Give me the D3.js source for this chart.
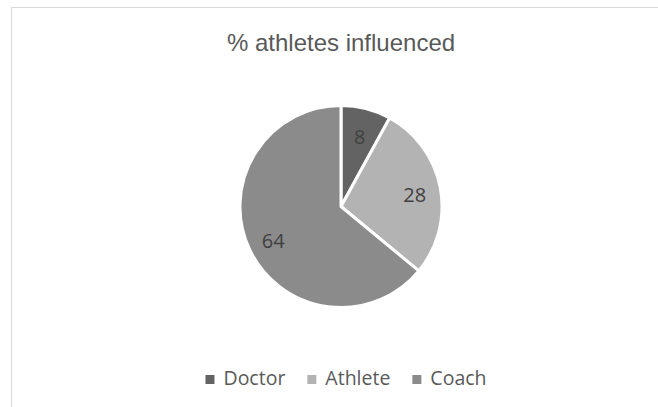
<!DOCTYPE html>
<html>
<head>
<meta charset="utf-8">
<script src="https://cdn.jsdelivr.net/npm/d3@7"></script>
<style>
  body { margin: 0; background: #fff; }
</style>
</head>
<body>
<script>
'use strict';

var categories = ["Doctor", "Athlete", "Coach"];
var values = [8, 28, 64];
var title = "% athletes influenced";

var width = 658;
var height = 407;

var colors = d3.scaleOrdinal()
    .domain(categories)
    .range(["#636363", "#b3b3b3", "#8b8b8b"]);

var data = categories.map(function (c, i) { return { name: c, value: values[i] }; });

var svg = d3.select("body").append("svg")
    .attr("width", width)
    .attr("height", height);

// chart area border
svg.append("rect")
    .attr("x", 11.5)
    .attr("y", 7.5)
    .attr("width", width)
    .attr("height", height)
    .attr("fill", "#fff")
    .attr("stroke", "#d9d9d9")
    .attr("stroke-width", 1);

svg.append("text")
    .attr("x", 341)
    .attr("y", 51)
    .attr("text-anchor", "middle")
    .attr("font-family", "Liberation Sans, Arial, sans-serif")
    .attr("font-size", 24)
    .attr("fill", "#595959")
    .text(title);

var radius = 101;
var cx = 341, cy = 206.5;

var pie = d3.pie()
    .sort(null)
    .value(d => d.value);

var arc = d3.arc()
    .innerRadius(0)
    .outerRadius(radius);

var labelArc = d3.arc()
    .innerRadius(75)
    .outerRadius(75);

var pieGroup = svg.append("g")
    .attr("transform", "translate(" + cx + "," + cy + ")");

var arcs = pie(data);

pieGroup.selectAll("path")
    .data(arcs)
    .enter().append("path")
    .attr("d", arc)
    .attr("fill", d => colors(d.data.name))
    .attr("stroke", "#fff")
    .attr("stroke-width", 3)
    .attr("stroke-linejoin", "round");

pieGroup.selectAll("text")
    .data(arcs)
    .enter().append("text")
    .attr("transform", d => "translate(" + labelArc.centroid(d) + ")")
    .attr("text-anchor", "middle")
    .attr("dy", "0.5em")
    .attr("font-family", "Open Sans, sans-serif")
    .attr("font-size", 20)
    .attr("fill", "#404040")
    .text(d => d.data.value);

// legend
var legend = svg.append("g");
var items = legend.selectAll("g")
    .data(categories)
    .enter().append("g");

items.append("rect")
    .attr("width", 9)
    .attr("height", 9)
    .attr("y", -10)
    .attr("fill", d => colors(d));

items.append("text")
    .attr("x", 18)
    .attr("y", 0)
    .attr("font-family", "Open Sans, sans-serif")
    .attr("font-size", 19.5)
    .attr("fill", "#595959")
    .text(d => d);

var xPos = 0;
items.each(function () {
    var w = d3.select(this).select("text").node().getComputedTextLength();
    d3.select(this).attr("transform", "translate(" + xPos + ",0)");
    xPos += 18 + w + 22;
});
var total = xPos - 22;
legend.attr("transform", "translate(" + (346 - total / 2) + ",385)");
</script>
</body>
</html>
